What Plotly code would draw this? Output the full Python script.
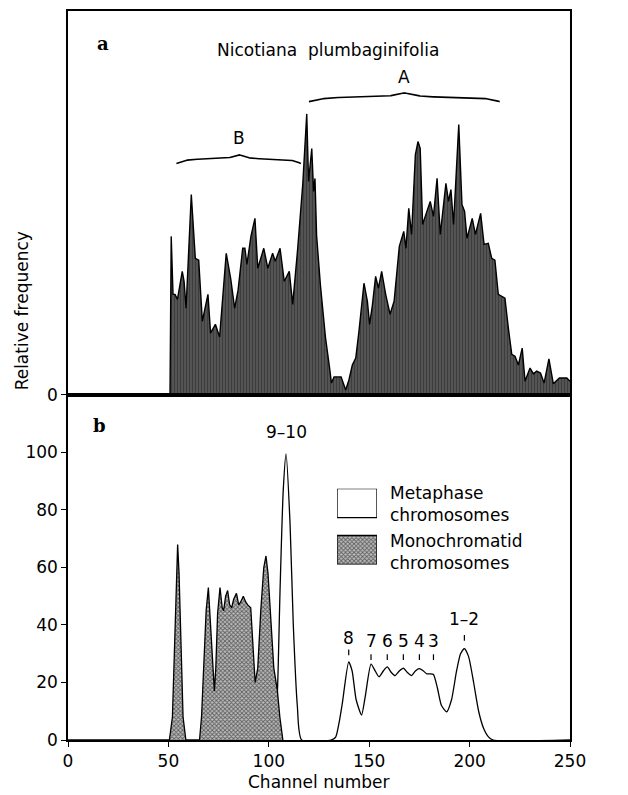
import numpy as np
import plotly.graph_objects as go

# ---------------- data ----------------
# Panel a: Nicotiana plumbaginifolia flow histogram (relative units, 0-100 panel scale)
top_channel = [50.8, 51.4, 52.3, 53.3, 54.5, 55.8, 56.9, 57.8, 58.8, 61.4, 63.4, 65.1, 66.9, 69.7, 71.0,
               73.4, 75.5, 78.8, 81.0, 83.0, 84.7, 87.0, 88.1, 89.1, 91.1, 93.1, 94.5, 97.5, 99.5, 101.9,
               103.2, 105.6, 107.7, 110.2, 111.9, 114.4, 116.9, 118.9, 119.8, 121.4, 122.3, 123.0, 123.8,
               125.7, 128.2, 130.2, 131.2, 132.5, 136.0, 138.3, 139.9, 141.6, 143.3, 144.9, 147.4, 149.1,
               150.2, 151.6, 153.2, 154.6, 156.2, 158.2, 160.4, 162.4, 163.0, 165.0, 167.2, 168.3, 169.7,
               171.1, 173.0, 174.3, 175.4, 176.6, 178.4, 180.4, 182.0, 183.8, 185.4, 188.2, 189.5, 190.7,
               192.0, 194.6, 196.2, 197.5, 198.7, 201.3, 202.9, 205.5, 207.2, 209.3, 211.0, 212.6, 214.3,
               217.6, 219.3, 221.0, 222.6, 224.3, 226.2, 227.6, 230.1, 231.8, 233.4, 235.3, 237.1, 239.5,
               241.7, 243.0, 244.7, 246.5, 248.4, 250.0]
top_freq = [0.0, 41.3, 26.2, 26.2, 24.9, 28.6, 32.2, 29.6, 22.6, 52.2, 35.6, 35.1, 19.2, 26.2, 16.1,
            18.4, 15.1, 36.9, 30.4, 22.6, 27.3, 38.2, 38.2, 34.0, 41.3, 46.0, 33.0, 38.2, 33.0, 36.9,
            34.8, 38.2, 29.6, 32.2, 23.6, 38.2, 54.8, 73.2, 55.6, 64.2, 53.0, 56.4, 41.6,
            28.6, 15.1, 7.3, 3.1, 4.7, 4.7, 1.3, 3.9, 7.8, 9.6, 16.6, 29.1, 24.4,
            18.4, 23.4, 30.9, 27.8, 32.2, 26.2, 21.0, 24.4, 27.8, 38.7, 42.6, 38.2, 48.6,
            41.8, 62.6, 66.0, 64.2, 44.4, 47.3, 50.4, 46.5, 56.4, 41.8, 55.1, 50.4, 53.5,
            44.4, 70.4, 49.6, 47.8, 40.8, 46.0, 41.8, 47.3, 39.2, 39.5, 35.6, 35.1, 26.2,
            25.2, 17.4, 10.6, 10.1, 7.8, 12.2, 3.6, 7.0, 5.5, 6.2, 5.7, 3.1, 9.4,
            2.9, 3.6, 4.4, 4.4, 4.4, 3.6]

# Panel b: monochromatid chromosomes (shaded)
mono_channel = [0, 50.5, 52.0, 53.0, 54.0, 54.6, 55.3, 56.3, 57.3, 58.7, 65.5, 66.5, 67.5, 68.8, 69.9,
                71.0, 72.4, 72.9, 73.6, 74.5, 75.7, 76.8, 77.5, 78.5, 79.5, 80.5, 81.5, 82.5, 83.9,
                85.0, 86.0, 87.3, 88.5, 89.5, 91.0, 92.0, 93.2, 94.5, 96.0, 97.5, 98.6, 99.6, 101.0,
                102.5, 104.3, 105.5, 107.0]
mono_freq = [0, 0, 8, 30, 58, 68, 58, 30, 8, 0, 0, 8, 25, 45, 53,
             40, 20, 17, 25, 44, 53, 46, 45, 50, 52, 47, 46, 49, 51,
             47, 48, 50, 48, 47, 46, 35, 20, 25, 45, 60, 64, 58, 40,
             25, 17, 8, 0]

# Panel b: metaphase chromosomes (outline)
meta_channel = [102.0, 103.5, 104.3, 105.6, 107.2, 108.6, 110.6, 112.2, 114.2, 116.4, 131.0, 133.3,
                135.0, 136.6, 139.8, 141.5, 143.5, 146.2, 148.0, 150.9, 153.0, 154.9, 157.0, 159.0,
                161.0, 162.9, 165.0, 167.0, 169.0, 171.1, 173.0, 175.0, 177.0, 178.7, 180.5, 182.0,
                184.0, 186.0, 188.6, 191.0, 193.5, 195.5, 197.4, 199.5, 202.0, 204.5, 207.0, 209.5,
                211.8, 250.0]
meta_freq = [0, 10, 17, 52, 87, 99.5, 75, 40, 12, 0, 0, 1,
             6, 12.7, 27.2, 24, 14, 8.7, 15, 26.4, 24, 22, 24, 25.4,
             23.5, 22.4, 24, 25, 23.5, 22.4, 24, 24.8, 24, 23, 23, 22.8,
             18, 12, 9.8, 14, 24, 30, 31.8, 29, 20, 10, 4, 1,
             0, 0]

# Peak labels (panel b)
peak_labels = ["8", "7", "6", "5", "4", "3", "1\u20132"]
peak_channels = [139.8, 150.9, 159.0, 167.0, 175.0, 182.0, 197.4]
peak_label_y = [35.5, 34.5, 34.5, 34.5, 34.5, 34.5, 42.0]
peak_tick_y = [(29.5, 31.5), (27.8, 29.8), (27.8, 29.8), (27.8, 29.8), (27.8, 29.8), (27.8, 29.8), (34.5, 36.5)]

# Braces (panel a): label, start channel, end channel, base height
brace_labels = ["B", "A"]
brace_start = [54.0, 120.0]
brace_end = [116.0, 215.0]
brace_base = [60.3, 76.4]

x_ticks = [0, 50, 100, 150, 200, 250]
y_ticks_b = [0, 20, 40, 60, 80, 100]

FONT = "DejaVu Sans"
FS = 17

MONO_PATTERN = dict(shape="x", fgcolor="black", bgcolor="#bdbdbd", size=3, solidity=0.5)

fig = go.Figure()

# ---------------- panel a ----------------
fig.add_trace(go.Scatter(
    x=top_channel, y=top_freq, mode="lines", xaxis="x", yaxis="y",
    line=dict(color="black", width=1.4), fill="tozeroy",
    fillcolor="#333333",
    fillpattern=dict(shape="|", fgcolor="black", bgcolor="#7a7a7a", size=3, solidity=0.75),
    showlegend=False, hoverinfo="skip"))


def brace_curve(x0, x1, ybase, height, n=301, beta=22.0):
    t = np.linspace(0, 1, n)
    half = t[: n // 2 + 1]
    yh = 1 / (1 + np.exp(-beta * (half - half[0]))) + 1 / (1 + np.exp(-beta * (half - half[-1])))
    yy = np.concatenate([yh, yh[-2::-1]])
    yy = ybase + (0.5 * yy - 0.25) * height
    xx = x0 + (x1 - x0) * t
    return xx, yy


for lab, s, e, b in zip(brace_labels, brace_start, brace_end, brace_base):
    bx, by = brace_curve(s, e, b, 4.6)
    fig.add_trace(go.Scatter(x=bx, y=by, mode="lines", xaxis="x", yaxis="y",
                             line=dict(color="black", width=1.6), showlegend=False, hoverinfo="skip"))
    fig.add_annotation(x=(s + e) / 2, y=b + 6.5, xref="x", yref="y", text=lab, showarrow=False,
                       xanchor="center", yanchor="middle",
                       font=dict(family=FONT, size=FS, color="black"))

# ---------------- panel b ----------------
fig.add_trace(go.Scatter(
    x=meta_channel, y=meta_freq, mode="lines", xaxis="x2", yaxis="y2",
    line=dict(color="black", width=1.3, shape="spline", smoothing=0.6), fill="tozeroy",
    fillcolor="white", showlegend=False, hoverinfo="skip"))
fig.add_trace(go.Scatter(
    x=mono_channel, y=mono_freq, mode="lines", xaxis="x2", yaxis="y2",
    line=dict(color="black", width=1.3), fill="tozeroy",
    fillcolor="#777777", fillpattern=MONO_PATTERN,
    showlegend=False, hoverinfo="skip"))

# peak ticks
tx, ty = [], []
for c, (a, b) in zip(peak_channels, peak_tick_y):
    tx += [c, c, None]
    ty += [a, b, None]
fig.add_trace(go.Scatter(x=tx, y=ty, mode="lines", xaxis="x2", yaxis="y2",
                         line=dict(color="black", width=1.2), showlegend=False, hoverinfo="skip"))
for lab, c, yv in zip(peak_labels, peak_channels, peak_label_y):
    fig.add_annotation(x=c, y=yv, xref="x2", yref="y2", text=lab, showarrow=False,
                       xanchor="center", yanchor="middle",
                       font=dict(family=FONT, size=FS, color="black"))
fig.add_annotation(x=108.6, y=107, xref="x2", yref="y2", text="9\u201310", showarrow=False,
                   xanchor="center", yanchor="middle",
                   font=dict(family=FONT, size=FS, color="black"))

# legend swatches on an overlay axis
fig.add_trace(go.Scatter(x=[0, 1, 1, 0, 0], y=[0.618, 0.618, 1, 1, 0.618], mode="lines",
                         xaxis="x3", yaxis="y3", fill="toself", fillcolor="white",
                         line=dict(color="black", width=1.3), showlegend=False, hoverinfo="skip"))
fig.add_trace(go.Scatter(x=[0, 1, 1, 0, 0], y=[0, 0, 0.382, 0.382, 0], mode="lines",
                         xaxis="x3", yaxis="y3", fill="toself", fillcolor="#777777",
                         fillpattern=MONO_PATTERN,
                         line=dict(color="black", width=1.3), showlegend=False, hoverinfo="skip"))


def paper_text(x, y, text, size=FS, family=FONT, angle=0, xanchor="center", align="center"):
    fig.add_annotation(x=x, y=y, xref="paper", yref="paper", text=text, showarrow=False,
                       xanchor=xanchor, yanchor="middle", textangle=angle, align=align,
                       font=dict(family=family, size=size, color="black"))


paper_text(0.6375, 0.3242, "Metaphase<br>chromosomes", xanchor="left", align="left")
paper_text(0.6375, 0.2579, "Monochromatid<br>chromosomes", xanchor="left", align="left")
paper_text(0.0697, 0.9549, "<b>a</b>", size=18, family="DejaVu Serif")
paper_text(0.0618, 0.4309, "<b>b</b>", size=18, family="DejaVu Serif")
paper_text(0.518, 0.9466, "Nicotiana  plumbaginifolia")
paper_text(-0.0916, 0.588, "Relative frequency", angle=-90)
paper_text(0.5, -0.0575, "Channel number")

split = 0.4733
axis_common = dict(showgrid=False, zeroline=False, showline=True, linecolor="black", linewidth=1.5,
                   ticklen=5, tickcolor="black", tickwidth=1.3,
                   tickfont=dict(family=FONT, size=FS, color="black"))

# page body has an 8px margin, so the figure is shrunk and margins compensate
fig.update_layout(
    width=620, height=787,
    margin=dict(l=60, r=58, t=1, b=55),
    paper_bgcolor="white", plot_bgcolor="white",
    xaxis=dict(domain=[0, 1], range=[0, 250], anchor="y", mirror=True, showticklabels=False,
               ticks="", **axis_common),
    yaxis=dict(domain=[split, 1], range=[0, 100], anchor="x", mirror=True, tickvals=[0],
               ticks="outside", **axis_common),
    xaxis2=dict(domain=[0, 1], range=[0, 250], anchor="y2", mirror=True, tickvals=x_ticks,
                ticks="outside", **axis_common),
    yaxis2=dict(domain=[0, split], range=[0, 120], anchor="x2", mirror=True, tickvals=y_ticks_b,
                ticks="outside", **axis_common),
    xaxis3=dict(domain=[0.536, 0.6155], range=[0, 1], anchor="y3", visible=False, fixedrange=True),
    yaxis3=dict(domain=[0.2408, 0.3447], range=[0, 1], anchor="x3", visible=False, fixedrange=True),
    showlegend=False,
)

fig.write_html("out.html")
